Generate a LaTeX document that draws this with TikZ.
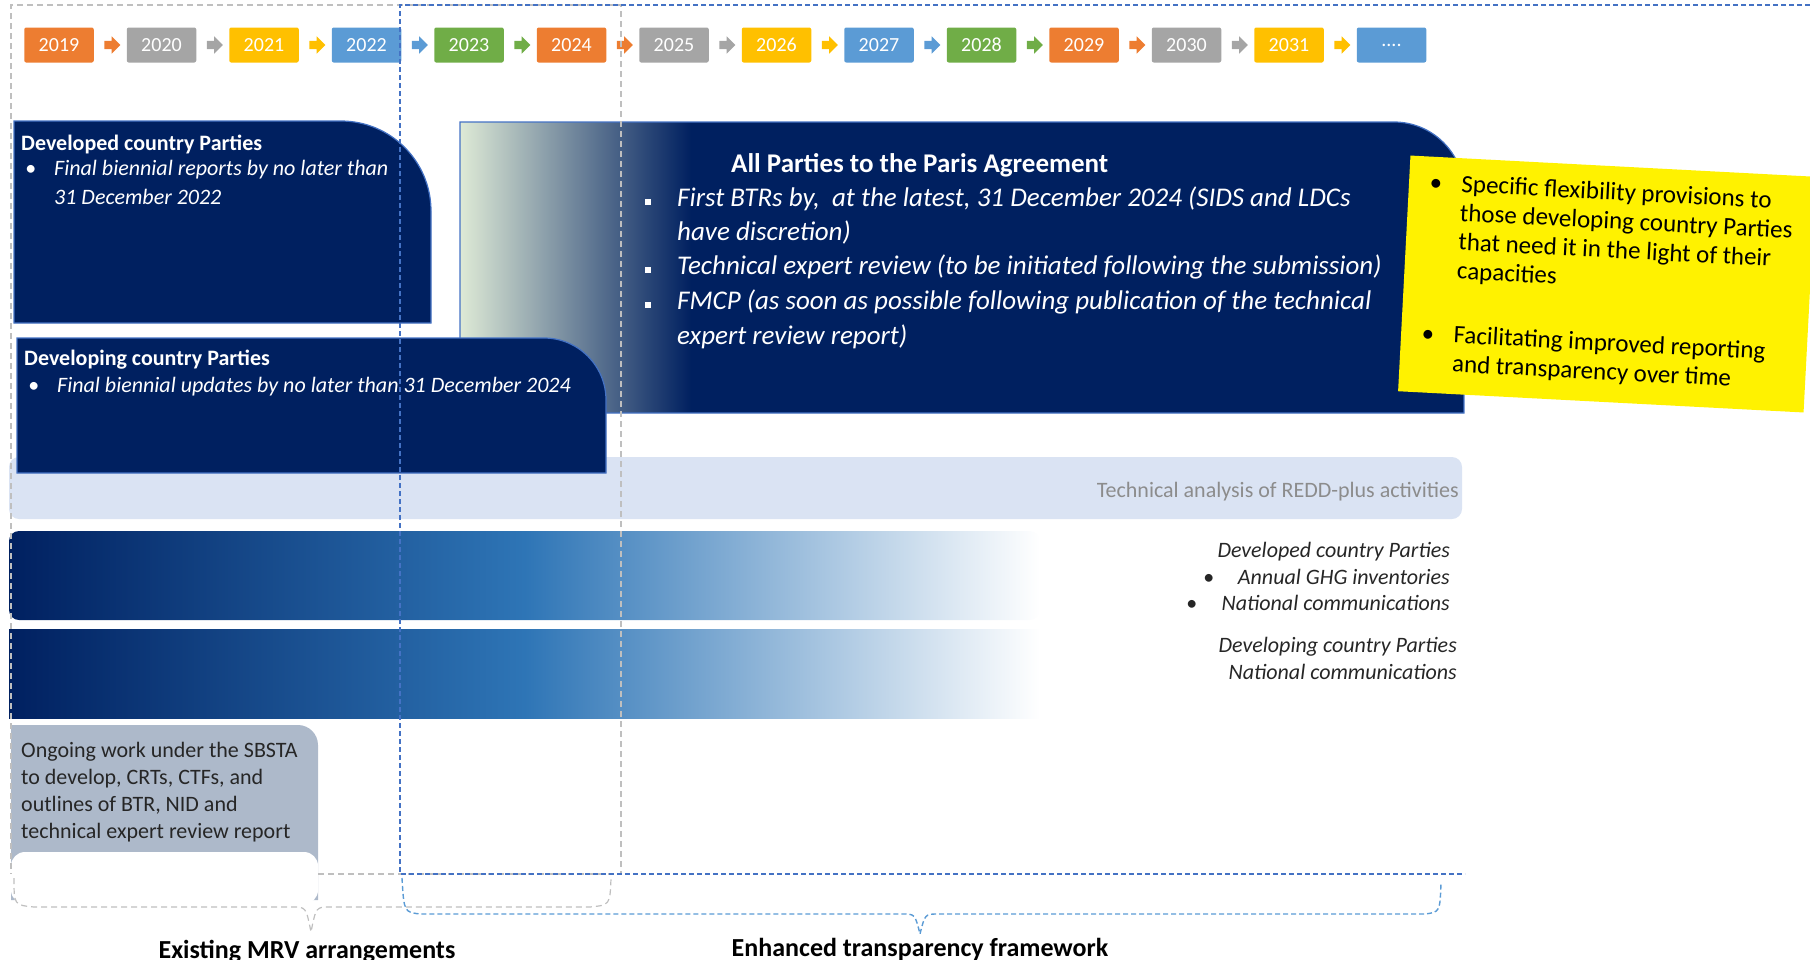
\documentclass[tikz,border=0pt]{standalone}
\usepackage{fontspec}
\setmainfont{Carlito}
\usetikzlibrary{shapes.arrows}

\definecolor{yrorange}{HTML}{ED7D31}
\definecolor{yrgray}{HTML}{A5A5A5}
\definecolor{yrgold}{HTML}{FFC000}
\definecolor{yrblue}{HTML}{5B9BD5}
\definecolor{yrgreen}{HTML}{70AD47}
\definecolor{navy}{HTML}{002060}
\definecolor{edgeblue}{HTML}{4472C4}
\definecolor{midblue}{HTML}{2E75B6}
\definecolor{paleband}{HTML}{DAE3F3}
\definecolor{palegreen}{HTML}{DEEAD6}
\definecolor{slatebox}{HTML}{ADB9CA}
\definecolor{dashgray}{HTML}{BFBFBF}
\definecolor{notegray}{HTML}{8C8C8C}
\definecolor{inkgray}{HTML}{262626}
\pgfdeclarehorizontalshading{partyshade}{100bp}{color(0bp)=(palegreen); color(25bp)=(palegreen); color(36.5bp)=(navy); color(100bp)=(navy)}

\begin{document}
\begin{tikzpicture}[x=1pt,y=-1pt,
	yr/.style={rounded corners=2pt,minimum width=69.5pt,minimum height=35pt,inner sep=0pt,text=white,font=\fontsize{20}{20}\selectfont},
	yarr/.style={single arrow,minimum height=16pt,inner sep=4pt,single arrow head extend=4.5pt},
	darkbox/.style={fill=navy,draw=edgeblue,line width=1.2pt},
	whitetxt/.style={text=white,inner sep=0pt},
	headtxt/.style={whitetxt,font=\fontsize{22}{22}\selectfont\bfseries},
	itemtxt/.style={whitetxt,font=\fontsize{22}{22}\selectfont\itshape},
	bigtxt/.style={whitetxt,font=\fontsize{27}{27}\selectfont\itshape},
	bartxt/.style={text=inkgray,inner sep=0pt,font=\fontsize{22}{22}\selectfont\itshape},
	sbtxt/.style={text=inkgray,inner sep=0pt,font=\fontsize{22}{22}\selectfont},
	mrvframe/.style={dashgray,line width=1.2pt,dash pattern=on 6pt off 4pt},
	etfframe/.style={edgeblue,line width=1.4pt,dash pattern=on 5pt off 3pt},
	etfbrace/.style={yrblue,line width=1.4pt,dash pattern=on 5pt off 3pt},
	framelabel/.style={inner sep=0pt,font=\fontsize{26}{26}\selectfont\bfseries}]
	\useasboundingbox (0,0) rectangle (1810,959);

	% REDD-plus band
	\fill[paleband,rounded corners=10pt] (9,457) rectangle (1462,519);
	\node[anchor=base east,inner sep=0pt,text=notegray,font=\fontsize{22}{22}\selectfont] (redd) at (1459,497) {Technical analysis of REDD-plus activities};

	% all Parties
	\path[shading=partyshade,draw=edgeblue,line width=1.2pt] (460,413) -- (460,122) -- (1394,122) .. controls (1432.6,122) and (1464,153.4) .. (1464,192) -- (1464,413) -- cycle;
	\node[anchor=base west,whitetxt,font=\fontsize{27}{27}\selectfont\bfseries] (allp) at (731,172) {All Parties to the Paris Agreement};
	\node[anchor=base west,whitetxt] (b1) at (645,205) {\rule{6pt}{6pt}};
	\node[anchor=base west,bigtxt] (t1) at (677,206) {First BTRs by,\ \ at the latest, 31 December 2024 (SIDS and LDCs};
	\node[anchor=base west,bigtxt] (t1') at (677,240) {have discretion)};
	\node[anchor=base west,whitetxt] (b2) at (645,273) {\rule{6pt}{6pt}};
	\node[anchor=base west,bigtxt] (t2) at (677,274) {Technical expert review (to be initiated following the submission)};
	\node[anchor=base west,whitetxt] (b3) at (645,308) {\rule{6pt}{6pt}};
	\node[anchor=base west,bigtxt] (t3) at (677,309) {FMCP (as soon as possible following publication of the technical};
	\node[anchor=base west,bigtxt] (t3') at (677,344) {expert review report)};

	% developed country Parties
	\draw[darkbox] (14,323) -- (14,121) -- (341,121) .. controls (390.7,121) and (431,161.3) .. (431,211) -- (431,323) -- cycle;
	\node[anchor=base west,headtxt] (dvd) at (21,150) {Developed country Parties};
	\node[anchor=base west,itemtxt] (dvdb) at (25,175) {\textbullet};
	\node[anchor=base west,itemtxt] (dvd1) at (54,175) {Final biennial reports by no later than};
	\node[anchor=base west,itemtxt] (dvd2) at (54,204) {31 December 2022};

	% developing country Parties
	\draw[darkbox] (17,473) -- (17,338) -- (544,338) .. controls (578.2,338) and (606,365.8) .. (606,400) -- (606,473) -- cycle;
	\node[anchor=base west,headtxt] (dvg) at (24,365) {Developing country Parties};
	\node[anchor=base west,itemtxt] (dvgb) at (28,392) {\textbullet};
	\node[anchor=base west,itemtxt] (dvg1) at (57,392) {Final biennial updates by no later than 31 December 2024};

	% reporting bars
	\shade[left color=navy,right color=white,middle color=midblue,rounded corners=10pt] (9,531) rectangle (1040,620);
	\shade[left color=navy,right color=white,middle color=midblue] (9,629) rectangle (1040,718);
	\node[anchor=base east,bartxt] (bar1) at (1450,557) {Developed country Parties};
	\node[anchor=base west,bartxt] (bar1b) at (1203,584) {\textbullet};
	\node[anchor=base east,bartxt] (bar1i) at (1450,584) {Annual GHG inventories};
	\node[anchor=base west,bartxt] (bar1c) at (1186,610) {\textbullet};
	\node[anchor=base east,bartxt] (bar1ii) at (1450,610) {National communications};
	\node[anchor=base east,bartxt] (bar2) at (1457,652) {Developing country Parties};
	\node[anchor=base east,bartxt] (bar2i) at (1457,679) {National communications};

	% SBSTA work
	\fill[slatebox] (11,900) -- (11,725) -- (298,725) .. controls (309,725) and (318,734) .. (318,745) -- (318,900) -- cycle;
	\node[anchor=base west,sbtxt] (sb1) at (21,757) {Ongoing work under the SBSTA};
	\node[anchor=base west,sbtxt] (sb2) at (21,784) {to develop, CRTs, CTFs, and};
	\node[anchor=base west,sbtxt] (sb3) at (21,811) {outlines of BTR, NID and};
	\node[anchor=base west,sbtxt] (sb4) at (21,838) {technical expert review report};
	\fill[white,rounded corners=14pt] (11,852) rectangle (318,904);

	% flexibility note
	\node[fill=yellow,rotate=-3,minimum width=406pt,minimum height=236pt,inner sep=0pt,font=\fontsize{25}{29}\selectfont] (flex) at (1607,284) {%
		\begin{tabular}{@{}p{32pt}@{}l@{}}
			\textbullet & \begin{tabular}[t]{@{}l@{}}Specific flexibility provisions to\\ those developing country Parties\\ that need it in the light of their\\ capacities\end{tabular}\\[122pt]
			\textbullet & \begin{tabular}[t]{@{}l@{}}Facilitating improved reporting\\ and transparency over time\end{tabular}
		\end{tabular}};

	% years
	\node[yr,fill=yrorange] (y19) at (59,45) {2019};
	\node[yr,fill=yrgray] (y20) at (161.5,45) {2020};
	\node[yr,fill=yrgold] (y21) at (264,45) {2021};
	\node[yr,fill=yrblue] (y22) at (366.5,45) {2022};
	\node[yr,fill=yrgreen] (y23) at (469,45) {2023};
	\node[yr,fill=yrorange] (y24) at (571.5,45) {2024};
	\node[yr,fill=yrgray] (y25) at (674,45) {2025};
	\node[yr,fill=yrgold] (y26) at (776.5,45) {2026};
	\node[yr,fill=yrblue] (y27) at (879,45) {2027};
	\node[yr,fill=yrgreen] (y28) at (981.5,45) {2028};
	\node[yr,fill=yrorange] (y29) at (1084,45) {2029};
	\node[yr,fill=yrgray] (y30) at (1186.5,45) {2030};
	\node[yr,fill=yrgold] (y31) at (1289,45) {2031};
	\node[yr,fill=yrblue] (ydots) at (1391.5,45) {....};
	\node[yarr,fill=yrorange] (a19) at (110.25,45) {};
	\node[yarr,fill=yrgray] (a20) at (212.75,45) {};
	\node[yarr,fill=yrgold] (a21) at (315.25,45) {};
	\node[yarr,fill=yrblue] (a22) at (417.75,45) {};
	\node[yarr,fill=yrgreen] (a23) at (520.25,45) {};
	\node[yarr,fill=yrorange] (a24) at (622.75,45) {};
	\node[yarr,fill=yrgray] (a25) at (725.25,45) {};
	\node[yarr,fill=yrgold] (a26) at (827.75,45) {};
	\node[yarr,fill=yrblue] (a27) at (930.25,45) {};
	\node[yarr,fill=yrgreen] (a28) at (1032.75,45) {};
	\node[yarr,fill=yrorange] (a29) at (1135.25,45) {};
	\node[yarr,fill=yrgray] (a30) at (1237.75,45) {};
	\node[yarr,fill=yrgold] (a31) at (1340.25,45) {};

	% frames and braces
	\draw[mrvframe] (318,874) -- (621,874) -- (621,5) -- (11,5) -- (11,874);
	\draw[etfframe] (1810,5) -- (400,5) -- (400,874) -- (1465,874);
	\draw[mrvframe] (14,878) .. controls (14,905) .. (34,907) -- (292,907) .. controls (306,907) .. (311,932) .. controls (316,907) .. (330,907) -- (590,907) .. controls (610,905) .. (611,878);
	\draw[etfbrace] (402,878) .. controls (404,912) .. (420,914) -- (902,914) .. controls (915,914) .. (920,934) .. controls (925,914) .. (938,914) -- (1425,914) .. controls (1440,912) .. (1441,882);
	\node[anchor=base,framelabel] (mrv) at (307,958) {Existing MRV arrangements};
	\node[anchor=base,framelabel] (etf) at (920,956) {Enhanced transparency framework};
\end{tikzpicture}
\end{document}
